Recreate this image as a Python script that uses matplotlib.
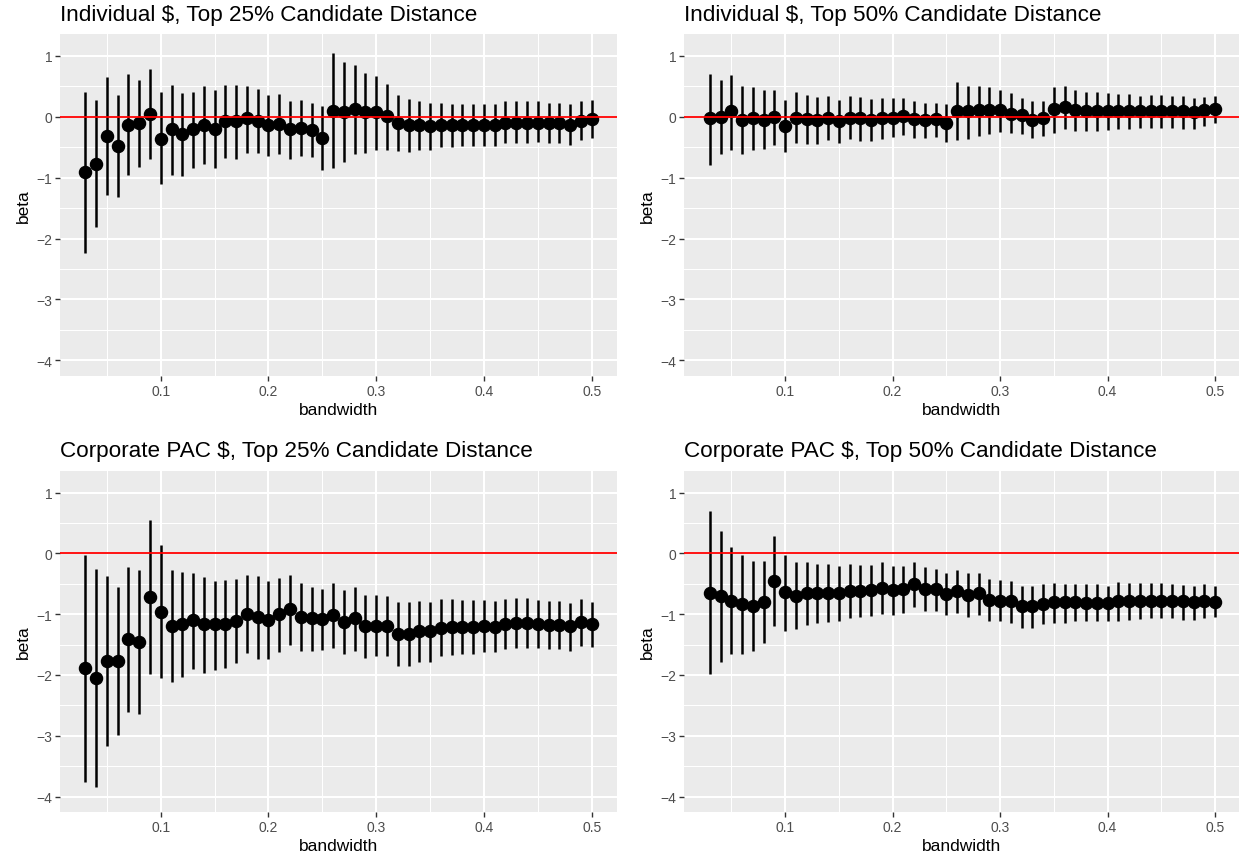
import matplotlib
matplotlib.use("Agg")
import matplotlib.pyplot as plt
import numpy as np

plt.rcParams['font.family'] = ['Liberation Sans', 'DejaVu Sans']

bandwidth = [round(0.03 + 0.01 * i, 2) for i in range(48)]

# Individual $, Top 25%
ind25_beta = [-0.91, -0.77, -0.32, -0.48, -0.13, -0.11, 0.05, -0.36, -0.21, -0.29,
              -0.21, -0.13, -0.20, -0.08, -0.08, -0.03, -0.07, -0.14, -0.12, -0.21,
              -0.18, -0.22, -0.35, 0.10, 0.08, 0.13, 0.07, 0.07, 0.01, -0.11,
              -0.14, -0.14, -0.16, -0.14, -0.14, -0.14, -0.14, -0.14, -0.14, -0.10,
              -0.10, -0.10, -0.10, -0.10, -0.10, -0.14, -0.07, -0.04]
ind25_hi = [0.40, 0.27, 0.65, 0.35, 0.70, 0.60, 0.78, 0.40, 0.52, 0.39,
            0.41, 0.51, 0.43, 0.52, 0.52, 0.50, 0.45, 0.36, 0.37, 0.26,
            0.28, 0.22, 0.18, 1.04, 0.89, 0.84, 0.71, 0.66, 0.54, 0.35,
            0.29, 0.26, 0.22, 0.23, 0.21, 0.21, 0.20, 0.20, 0.20, 0.25,
            0.25, 0.25, 0.25, 0.23, 0.23, 0.21, 0.25, 0.27]
ind25_lo = [-2.23, -1.81, -1.29, -1.32, -0.95, -0.83, -0.70, -1.11, -0.95, -0.97,
            -0.85, -0.77, -0.85, -0.68, -0.70, -0.59, -0.60, -0.64, -0.61, -0.69,
            -0.64, -0.67, -0.88, -0.85, -0.74, -0.61, -0.59, -0.54, -0.54, -0.57,
            -0.58, -0.54, -0.54, -0.50, -0.50, -0.49, -0.48, -0.48, -0.48, -0.44,
            -0.44, -0.43, -0.42, -0.43, -0.43, -0.47, -0.39, -0.35]

# Individual $, Top 50%
ind50_beta = [-0.03, -0.01, 0.09, -0.05, -0.03, -0.05, -0.01, -0.15, -0.02, -0.04,
              -0.05, -0.02, -0.07, -0.02, -0.03, -0.05, -0.03, -0.02, 0.01, -0.04,
              -0.05, -0.04, -0.11, 0.10, 0.10, 0.11, 0.11, 0.11, 0.05, 0.02,
              -0.05, -0.03, 0.12, 0.15, 0.11, 0.10, 0.10, 0.10, 0.10, 0.10,
              0.10, 0.10, 0.10, 0.10, 0.09, 0.08, 0.11, 0.13]
ind50_hi = [0.70, 0.60, 0.69, 0.50, 0.49, 0.43, 0.44, 0.27, 0.40, 0.36,
            0.32, 0.34, 0.28, 0.34, 0.32, 0.29, 0.30, 0.30, 0.31, 0.25,
            0.23, 0.23, 0.20, 0.57, 0.50, 0.50, 0.48, 0.44, 0.38, 0.31,
            0.25, 0.25, 0.49, 0.50, 0.43, 0.41, 0.40, 0.39, 0.37, 0.37,
            0.34, 0.35, 0.35, 0.34, 0.33, 0.31, 0.32, 0.34]
ind50_lo = [-0.80, -0.61, -0.55, -0.62, -0.54, -0.53, -0.46, -0.58, -0.43, -0.45,
            -0.45, -0.39, -0.44, -0.37, -0.40, -0.40, -0.36, -0.33, -0.30, -0.35,
            -0.35, -0.33, -0.42, -0.38, -0.36, -0.31, -0.28, -0.26, -0.27, -0.29,
            -0.35, -0.32, -0.27, -0.21, -0.24, -0.24, -0.24, -0.22, -0.21, -0.20,
            -0.19, -0.19, -0.19, -0.19, -0.20, -0.21, -0.16, -0.11]

# Corporate PAC $, Top 25%
pac25_beta = [-1.89, -2.05, -1.77, -1.77, -1.41, -1.46, -0.72, -0.96, -1.19, -1.16,
              -1.10, -1.17, -1.17, -1.16, -1.11, -1.00, -1.04, -1.09, -1.00, -0.92,
              -1.04, -1.07, -1.08, -1.01, -1.13, -1.07, -1.20, -1.19, -1.20, -1.33,
              -1.32, -1.28, -1.28, -1.22, -1.21, -1.21, -1.21, -1.20, -1.21, -1.17,
              -1.15, -1.15, -1.16, -1.18, -1.18, -1.20, -1.13, -1.16]
pac25_hi = [-0.03, -0.25, -0.37, -0.55, -0.22, -0.27, 0.55, 0.13, -0.27, -0.31,
            -0.32, -0.39, -0.45, -0.44, -0.42, -0.35, -0.38, -0.45, -0.40, -0.36,
            -0.49, -0.55, -0.58, -0.49, -0.60, -0.56, -0.68, -0.68, -0.70, -0.80,
            -0.80, -0.79, -0.80, -0.75, -0.75, -0.77, -0.77, -0.77, -0.78, -0.75,
            -0.74, -0.74, -0.76, -0.79, -0.79, -0.81, -0.75, -0.80]
pac25_lo = [-3.76, -3.85, -3.17, -2.98, -2.61, -2.65, -1.98, -2.05, -2.11, -2.03,
            -1.90, -1.96, -1.92, -1.89, -1.81, -1.64, -1.73, -1.74, -1.62, -1.50,
            -1.61, -1.61, -1.59, -1.55, -1.66, -1.60, -1.72, -1.69, -1.69, -1.86,
            -1.85, -1.79, -1.78, -1.69, -1.67, -1.66, -1.66, -1.63, -1.63, -1.58,
            -1.56, -1.56, -1.55, -1.57, -1.57, -1.60, -1.52, -1.54]

# Corporate PAC $, Top 50%
pac50_beta = [-0.65, -0.70, -0.78, -0.84, -0.86, -0.80, -0.45, -0.64, -0.70, -0.66,
              -0.66, -0.65, -0.66, -0.62, -0.62, -0.60, -0.57, -0.60, -0.58, -0.51,
              -0.58, -0.58, -0.67, -0.62, -0.68, -0.66, -0.77, -0.78, -0.79, -0.87,
              -0.87, -0.84, -0.80, -0.80, -0.80, -0.81, -0.81, -0.81, -0.78, -0.78,
              -0.78, -0.78, -0.78, -0.79, -0.79, -0.80, -0.78, -0.80]
pac50_hi = [0.69, 0.37, 0.10, -0.02, -0.13, -0.13, 0.28, -0.02, -0.15, -0.15,
            -0.18, -0.17, -0.21, -0.17, -0.19, -0.19, -0.15, -0.21, -0.20, -0.15,
            -0.23, -0.25, -0.33, -0.28, -0.33, -0.32, -0.42, -0.44, -0.46, -0.53,
            -0.54, -0.51, -0.49, -0.50, -0.50, -0.51, -0.51, -0.53, -0.47, -0.48,
            -0.48, -0.48, -0.49, -0.51, -0.52, -0.53, -0.50, -0.54]
pac50_lo = [-1.99, -1.78, -1.66, -1.66, -1.60, -1.47, -1.19, -1.28, -1.25, -1.18,
            -1.14, -1.13, -1.12, -1.07, -1.05, -1.03, -1.00, -1.01, -0.98, -0.89,
            -0.95, -0.94, -1.01, -0.98, -1.04, -1.02, -1.11, -1.11, -1.14, -1.23,
            -1.22, -1.17, -1.15, -1.14, -1.12, -1.12, -1.12, -1.11, -1.11, -1.09,
            -1.08, -1.07, -1.07, -1.07, -1.10, -1.10, -1.06, -1.05]

titles = ["Individual $, Top 25% Candidate Distance",
          "Individual $, Top 50% Candidate Distance",
          "Corporate PAC $, Top 25% Candidate Distance",
          "Corporate PAC $, Top 50% Candidate Distance"]
panels = [(ind25_beta, ind25_lo, ind25_hi), (ind50_beta, ind50_lo, ind50_hi),
          (pac25_beta, pac25_lo, pac25_hi), (pac50_beta, pac50_lo, pac50_hi)]

W, H = 1239, 862
fig = plt.figure(figsize=(W / 100, H / 100), dpi=100)

# panel boxes in pixels: left, right, top, bottom
boxes = [(60, 617, 35, 377), (684, 1239, 35, 377),
         (60, 617, 472, 813), (684, 1239, 472, 813)]
xlims = [(0.0065, 0.5235), (0.006, 0.5223), (0.0065, 0.5235), (0.006, 0.5223)]

for k in range(4):
    l, r, t, b = boxes[k]
    ax = fig.add_axes([l / W, 1 - b / H, (r - l) / W, (b - t) / H])
    ax.set_facecolor("#EBEBEB")
    for s in ax.spines.values():
        s.set_visible(False)
    ax.set_xlim(*xlims[k])
    ax.set_ylim(-4.255, 1.355)
    ax.set_xticks([0.1, 0.2, 0.3, 0.4, 0.5])
    ax.set_xticks([0.05, 0.15, 0.25, 0.35, 0.45], minor=True)
    ax.set_yticks([-4, -3, -2, -1, 0, 1])
    ax.set_yticks([-3.5, -2.5, -1.5, -0.5, 0.5], minor=True)
    ax.grid(which="major", color="white", linewidth=1.5)
    ax.grid(which="minor", color="white", linewidth=0.75)
    ax.set_axisbelow(True)
    ax.tick_params(which="major", length=3.5, width=1.0, color="#333333",
                   labelcolor="#4D4D4D", labelsize=10, pad=2)
    ax.tick_params(which="minor", length=0)
    ax.set_xticklabels(["0.1", "0.2", "0.3", "0.4", "0.5"])

    beta, lo, hi = panels[k]
    ax.vlines(bandwidth, lo, hi, color="black", linewidth=1.8)
    ax.plot(bandwidth, beta, "o", color="black", markersize=8.7)
    ax.axhline(0, color="red", linewidth=1.3)

    ax.set_xlabel("bandwidth", fontsize=12.5, labelpad=3)
    ax.set_ylabel("beta", fontsize=12.5, labelpad=4)
    fig.text(l / W, 1 - (t - 20) / H, titles[k], fontsize=16.2, va="center", ha="left")

fig.savefig("out.png", dpi=100)
